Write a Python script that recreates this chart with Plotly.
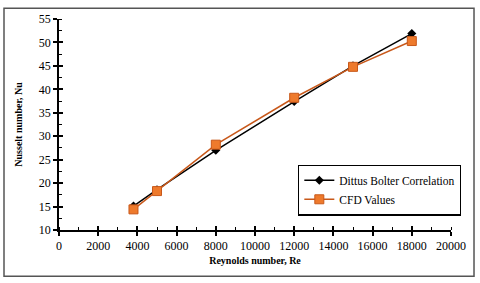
import plotly.graph_objects as go

re_values = [3800, 5000, 8000, 12000, 15000, 18000]
nu_dittus = [15.1, 18.6, 27.0, 37.4, 45.0, 51.9]
nu_cfd = [14.4, 18.3, 28.2, 38.2, 44.8, 50.3]

x_ticks = list(range(0, 20001, 2000))
y_ticks = list(range(10, 56, 5))

FONT = "Liberation Serif, Times New Roman, serif"

fig = go.Figure()
fig.add_trace(go.Scatter(
    x=re_values, y=nu_dittus, mode="lines+markers", name="Dittus Bolter Correlation",
    line=dict(color="black", width=1.5),
    marker=dict(symbol="diamond", size=7, color="black"),
))
fig.add_trace(go.Scatter(
    x=re_values, y=nu_cfd, mode="lines+markers", name="CFD Values",
    line=dict(color="#C8581A", width=1.5),
    marker=dict(symbol="square", size=9, color="#EE7A2C", line=dict(color="#C8581A", width=1)),
))

axis_common = dict(showgrid=False, zeroline=False, showline=True, linecolor="black", linewidth=1.5,
                   ticks="outside", ticklen=4, tickwidth=1.5, tickcolor="black",
                   tickfont=dict(family=FONT, size=12, color="black"))

fig.update_layout(
    width=480, height=283,
    margin=dict(l=59, r=29, t=16, b=53),
    paper_bgcolor="white", plot_bgcolor="white",
    font=dict(family=FONT, color="black"),
    xaxis=dict(range=[0, 20000], tickvals=x_ticks, ticktext=[str(v) for v in x_ticks],
               minor=dict(dtick=1000, ticks="inside", ticklen=3, tickwidth=1, tickcolor="black"),
               title=dict(text="<b>Reynolds number, Re</b>", font=dict(family=FONT, size=10), standoff=5),
               **axis_common),
    yaxis=dict(range=[10, 55], tickvals=y_ticks, ticktext=[str(v) for v in y_ticks],
               minor=dict(dtick=2.5, ticks="inside", ticklen=3, tickwidth=1, tickcolor="black"),
               title=dict(text="<b>Nusselt number, Nu</b>", font=dict(family=FONT, size=10), standoff=14),
               **axis_common),
    xaxis2=dict(range=[0, 20000], overlaying="x", anchor="y", side="bottom", tickvals=x_ticks,
                showticklabels=False, ticks="inside", ticklen=4, tickwidth=1.5, tickcolor="black",
                showgrid=False, zeroline=False, showline=False),
    yaxis2=dict(range=[10, 55], overlaying="y", anchor="x", side="left", tickvals=y_ticks,
                showticklabels=False, ticks="inside", ticklen=4, tickwidth=1.5, tickcolor="black",
                showgrid=False, zeroline=False, showline=False),
    legend=dict(x=0.61, y=0.31, xanchor="left", yanchor="top", bgcolor="white",
                bordercolor="black", borderwidth=1.2, font=dict(family=FONT, size=11.5),
                tracegroupgap=4, itemwidth=30),
    showlegend=True,
)
# invisible trace to activate the overlay axes
fig.add_trace(go.Scatter(x=[None], y=[None], xaxis="x2", yaxis="y2", showlegend=False, hoverinfo="skip"))

fig.add_shape(type="rect", xref="paper", yref="paper", x0=-0.1403, x1=1.0587, y0=-0.2196, y1=1.0514,
              line=dict(color="#555555", width=1.5), fillcolor="rgba(0,0,0,0)", layer="below")

fig.write_html("out.html", config={"displayModeBar": False},
               post_script="document.body.style.margin='0';")
